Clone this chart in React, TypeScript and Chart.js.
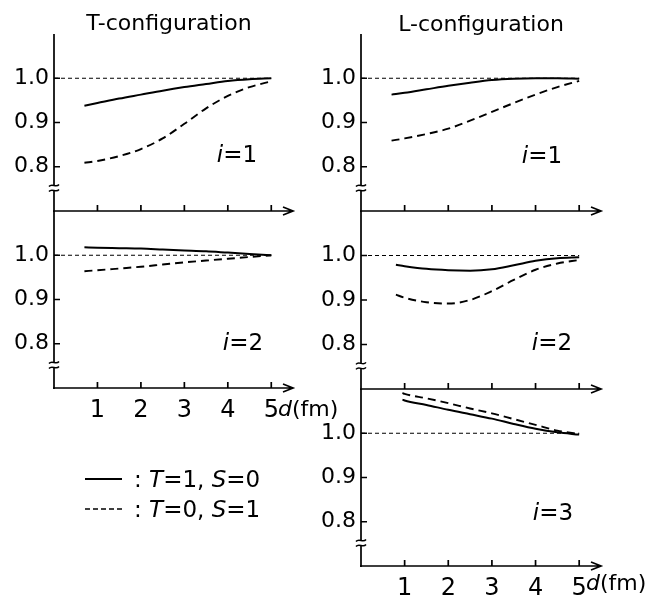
import React, { useEffect, useRef } from "react";
import { Chart, registerables } from "chart.js";

Chart.register(...registerables);

const FONT = "'DejaVu Sans', 'Liberation Sans', sans-serif";

// Axis ticks
const xTickValues = [1, 2, 3, 4, 5];
const yTickValues = [0.8, 0.9, 1.0];
// reference level line (ratio = 1)
const refDist = [0, 5];
const refLevel = [1.0, 1.0];

// T-configuration, i = 1
const tI1Dist = [0.7, 1, 1.5, 2, 2.5, 3, 3.5, 4, 4.5, 5];
const tI1Solid = [0.938, 0.944, 0.954, 0.963, 0.972, 0.98, 0.987, 0.994, 0.998, 1.0];
const tI1Dashed = [0.809, 0.813, 0.824, 0.84, 0.864, 0.897, 0.932, 0.96, 0.98, 0.993];

// T-configuration, i = 2
const tI2Dist = [0.7, 1, 1.5, 2, 2.5, 3, 3.5, 4, 4.5, 5];
const tI2Solid = [1.018, 1.017, 1.016, 1.015, 1.013, 1.011, 1.009, 1.006, 1.003, 1.0];
const tI2Dashed = [0.964, 0.966, 0.97, 0.974, 0.979, 0.984, 0.988, 0.992, 0.996, 1.0];

// L-configuration, i = 1
const lI1Dist = [0.7, 1, 1.5, 2, 2.5, 3, 3.5, 4, 4.5, 5];
const lI1Solid = [0.963, 0.967, 0.975, 0.983, 0.99, 0.996, 0.999, 1.0, 1.0, 0.999];
const lI1Dashed = [0.859, 0.864, 0.874, 0.886, 0.904, 0.924, 0.944, 0.963, 0.98, 0.994];

// L-configuration, i = 2
const lI2Dist = [0.8, 1, 1.5, 2, 2.5, 3, 3.5, 4, 4.5, 5];
const lI2Solid = [0.979, 0.976, 0.97, 0.967, 0.966, 0.969, 0.978, 0.988, 0.994, 0.996];
const lI2Dashed = [0.912, 0.905, 0.895, 0.892, 0.9, 0.92, 0.945, 0.968, 0.982, 0.99];

// L-configuration, i = 3
const lI3Dist = [0.95, 1, 1.5, 2, 2.5, 3, 3.5, 4, 4.5, 5];
const lI3Solid = [1.076, 1.074, 1.064, 1.053, 1.043, 1.033, 1.021, 1.01, 1.002, 0.997];
const lI3Dashed = [1.091, 1.089, 1.079, 1.068, 1.056, 1.045, 1.032, 1.019, 1.006, 0.998];

const BREAK_VALUE = 0.752;

const toPoints = (xs: number[], ys: number[]) => xs.map((x, i) => ({ x, y: ys[i] }));

const axesPlugin = {
  id: "panelAxes",
  afterDatasetsDraw(chart: any) {
    const { ctx, chartArea, scales } = chart;
    const { left, right, top, bottom } = chartArea;
    const xs = scales.x;
    const ys = scales.y;
    ctx.save();
    ctx.strokeStyle = "#000";
    ctx.lineWidth = 1.7;
    ctx.beginPath();
    ctx.moveTo(left, top);
    ctx.lineTo(left, bottom + 1);
    ctx.moveTo(left - 1, bottom);
    ctx.lineTo(right, bottom);
    ctx.moveTo(right - 10, bottom - 4);
    ctx.lineTo(right, bottom);
    ctx.lineTo(right - 10, bottom + 4);
    for (const v of xTickValues) {
      const px = xs.getPixelForValue(v);
      ctx.moveTo(px, bottom);
      ctx.lineTo(px, bottom - 6);
    }
    for (const v of yTickValues) {
      const py = ys.getPixelForValue(v);
      ctx.moveTo(left, py);
      ctx.lineTo(left + 6, py);
    }
    ctx.stroke();
    const by = ys.getPixelForValue(BREAK_VALUE);
    ctx.fillStyle = "#fff";
    ctx.fillRect(left - 2, by - 2.5, 4, 5);
    ctx.lineWidth = 1.5;
    for (const off of [-2.5, 2.5]) {
      ctx.beginPath();
      ctx.moveTo(left - 5, by + off + 1);
      ctx.bezierCurveTo(left - 2, by + off - 3, left + 2, by + off + 3, left + 5, by + off - 1);
      ctx.stroke();
    }
    ctx.restore();
  },
};

type PanelProps = {
  left: number;
  top: number;
  width: number;
  height: number;
  areaLeft: number;
  areaTop: number;
  areaRight: number;
  areaBottom: number;
  dist: number[];
  solid: number[];
  dashed: number[];
  showXLabels: boolean;
};

function Panel(p: PanelProps) {
  const ref = useRef<HTMLCanvasElement | null>(null);
  useEffect(() => {
    if (!ref.current) return;
    const chart = new Chart(ref.current, {
      type: "scatter",
      data: {
        datasets: [
          {
            data: toPoints(refDist, refLevel),
            showLine: true,
            borderColor: "#000",
            borderWidth: 1.2,
            borderDash: [4, 3],
            pointRadius: 0,
          },
          {
            data: toPoints(p.dist, p.solid),
            showLine: true,
            borderColor: "#000",
            borderWidth: 2,
            pointRadius: 0,
            cubicInterpolationMode: "monotone",
          },
          {
            data: toPoints(p.dist, p.dashed),
            showLine: true,
            borderColor: "#000",
            borderWidth: 1.9,
            borderDash: [8, 5],
            pointRadius: 0,
            cubicInterpolationMode: "monotone",
          },
        ],
      } as any,
      options: {
        responsive: false,
        animation: false,
        events: [],
        layout: {
          padding: {
            left: 0,
            top: p.areaTop - p.top,
            right: p.left + p.width - p.areaRight,
            bottom: 0,
          },
        },
        plugins: { legend: { display: false }, tooltip: { enabled: false } },
        scales: {
          x: {
            type: "linear",
            min: 0,
            max: 5.5,
            grid: { display: false, drawTicks: false },
            border: { display: false },
            afterBuildTicks: (s: any) => {
              s.ticks = xTickValues.map((v) => ({ value: v }));
            },
            afterFit: (s: any) => {
              s.height = p.top + p.height - p.areaBottom;
            },
            ticks: {
              display: p.showXLabels,
              autoSkip: false,
              maxRotation: 0,
              padding: 8,
              color: "#000",
              font: { family: FONT, size: 24 },
              callback: (v: any) => String(v),
            },
          },
          y: {
            type: "linear",
            min: 0.7,
            max: 1.1,
            grid: { display: false, drawTicks: false },
            border: { display: false },
            afterBuildTicks: (s: any) => {
              s.ticks = yTickValues.map((v) => ({ value: v }));
            },
            afterFit: (s: any) => {
              s.width = p.areaLeft - p.left;
            },
            ticks: {
              padding: 5,
              color: "#000",
              font: { family: FONT, size: 22 },
              callback: (v: any) => Number(v).toFixed(1),
            },
          },
        },
      } as any,
      plugins: [axesPlugin],
    });
    return () => chart.destroy();
  }, []);
  return (
    <canvas
      ref={ref}
      width={p.width}
      height={p.height}
      style={{ position: "absolute", left: p.left, top: p.top, width: p.width, height: p.height }}
    />
  );
}

function Text(props: {
  x: number;
  baseline: number;
  size: number;
  align?: "left" | "center";
  children: React.ReactNode;
}) {
  const { x, baseline, size, align = "left" } = props;
  const top = baseline - size * 0.846;
  const style: React.CSSProperties = {
    position: "absolute",
    top,
    left: align === "center" ? x - 200 : x,
    width: align === "center" ? 400 : undefined,
    textAlign: align,
    fontFamily: FONT,
    fontSize: size,
    lineHeight: `${size}px`,
    color: "#000",
    whiteSpace: "nowrap",
  };
  return <div style={style}>{props.children}</div>;
}

export default function App() {
  return (
    <div
      style={{
        position: "absolute",
        left: 0,
        top: 0,
        width: 650,
        height: 597,
        background: "#fff",
        overflow: "hidden",
      }}
    >
      <Panel left={0} top={0} width={320} height={230} areaLeft={54} areaTop={34} areaRight={293} areaBottom={211}
        dist={tI1Dist} solid={tI1Solid} dashed={tI1Dashed} showXLabels={false} />
      <Panel left={0} top={180} width={345} height={252} areaLeft={54} areaTop={211} areaRight={293} areaBottom={388}
        dist={tI2Dist} solid={tI2Solid} dashed={tI2Dashed} showXLabels={true} />
      <Panel left={305} top={0} width={345} height={230} areaLeft={361} areaTop={34} areaRight={601} areaBottom={211}
        dist={lI1Dist} solid={lI1Solid} dashed={lI1Dashed} showXLabels={false} />
      <Panel left={305} top={180} width={345} height={232} areaLeft={361} areaTop={211} areaRight={601} areaBottom={389}
        dist={lI2Dist} solid={lI2Solid} dashed={lI2Dashed} showXLabels={false} />
      <Panel left={305} top={360} width={345} height={237} areaLeft={361} areaTop={389} areaRight={601} areaBottom={566}
        dist={lI3Dist} solid={lI3Solid} dashed={lI3Dashed} showXLabels={true} />

      <Text x={169} baseline={31} size={22} align="center">T-configuration</Text>
      <Text x={481} baseline={32} size={22} align="center">L-configuration</Text>

      <Text x={237} baseline={162} size={23} align="center"><i>i</i>=1</Text>
      <Text x={542} baseline={163} size={23} align="center"><i>i</i>=1</Text>
      <Text x={243} baseline={350} size={23} align="center"><i>i</i>=2</Text>
      <Text x={552} baseline={350} size={23} align="center"><i>i</i>=2</Text>
      <Text x={553} baseline={520} size={23} align="center"><i>i</i>=3</Text>

      <Text x={278} baseline={417} size={22}><i>d</i>(fm)</Text>
      <Text x={586} baseline={591} size={22}><i>d</i>(fm)</Text>

      <svg style={{ position: "absolute", left: 0, top: 0 }} width={650} height={597}>
        <line x1={85} y1={479} x2={122} y2={479} stroke="#000" strokeWidth={1.8} />
        <line x1={85} y1={509} x2={124} y2={509} stroke="#000" strokeWidth={1.6} strokeDasharray="5,3" />
      </svg>
      <Text x={134} baseline={487} size={23}>: <i>T</i>=1, <i>S</i>=0</Text>
      <Text x={134} baseline={517} size={23}>: <i>T</i>=0, <i>S</i>=1</Text>
    </div>
  );
}
